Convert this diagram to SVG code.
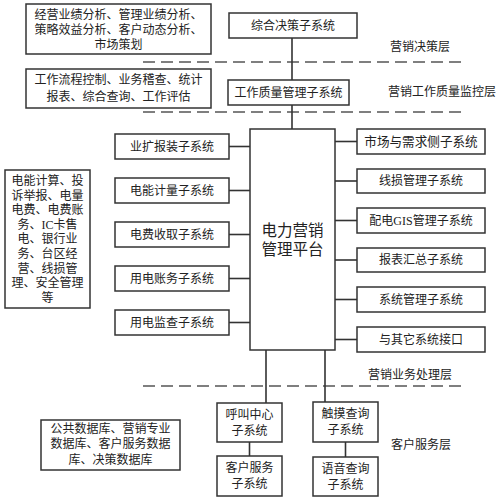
<svg xmlns="http://www.w3.org/2000/svg" width="500" height="501" viewBox="0 0 500 501">
<style>
.box{fill:#fff;stroke:#333;stroke-width:1.5}
.t{font-family:"Liberation Serif","Noto Sans CJK SC",serif;font-size:12px;fill:#222;text-anchor:middle;dominant-baseline:central}
.lbl{font-family:"Liberation Serif","Noto Sans CJK SC",serif;font-size:12px;fill:#222;text-anchor:middle;dominant-baseline:central}
.big{font-size:15.5px}
.ln{stroke:#333;stroke-width:1.6;fill:none}
.dash{stroke:#555;stroke-width:1.6;stroke-dasharray:12 6;fill:none}
</style>
<rect width="500" height="501" fill="#fff"/>
<g id="layers">
<line class="dash" x1="143" y1="62" x2="463" y2="62"/>
<line class="dash" x1="143" y1="112" x2="463" y2="112"/>
<line class="dash" x1="143" y1="386" x2="463" y2="386"/>
<text class="lbl" x="420" y="47">营销决策层</text>
<text class="lbl" x="442" y="92">营销工作质量监控层</text>
<text class="lbl" x="410" y="375">营销业务处理层</text>
<text class="lbl" x="421" y="445">客户服务层</text>
</g>
<g id="connectors">
<line class="ln" x1="292" y1="38" x2="292" y2="80"/>
<line class="ln" x1="292" y1="105" x2="292" y2="129"/>
<line class="ln" x1="229" y1="146.5" x2="250" y2="146.5"/>
<line class="ln" x1="229" y1="190.5" x2="250" y2="190.5"/>
<line class="ln" x1="229" y1="234.5" x2="250" y2="234.5"/>
<line class="ln" x1="229" y1="278.5" x2="250" y2="278.5"/>
<line class="ln" x1="229" y1="322.5" x2="250" y2="322.5"/>
<line class="ln" x1="335" y1="141.5" x2="357" y2="141.5"/>
<line class="ln" x1="335" y1="181" x2="357" y2="181"/>
<line class="ln" x1="335" y1="220.5" x2="357" y2="220.5"/>
<line class="ln" x1="335" y1="260" x2="357" y2="260"/>
<line class="ln" x1="335" y1="299.5" x2="357" y2="299.5"/>
<line class="ln" x1="335" y1="339.5" x2="357" y2="339.5"/>
<line class="ln" x1="266" y1="350" x2="266" y2="403"/>
<line class="ln" x1="325" y1="350" x2="325" y2="402"/>
<line class="ln" x1="249.5" y1="442" x2="249.5" y2="456"/>
<line class="ln" x1="345.5" y1="442" x2="345.5" y2="457"/>
</g>
<g id="desc-decision">
<rect class="box" x="26" y="4" width="185" height="50"/>
<text class="t" x="118.5" y="15">经营业绩分析、管理业绩分析、</text>
<text class="t" x="118.5" y="30">策略效益分析、客户动态分析、</text>
<text class="t" x="118.5" y="45">市场策划</text>
</g>
<g id="desc-quality">
<rect class="box" x="26" y="69" width="185" height="39"/>
<text class="t" x="118.5" y="80">工作流程控制、业务稽查、统计</text>
<text class="t" x="118.5" y="97">报表、综合查询、工作评估</text>
</g>
<g id="decision">
<rect class="box" x="229" y="13" width="128" height="25"/>
<text class="t" x="293" y="25.5">综合决策子系统</text>
</g>
<g id="quality">
<rect class="box" x="228" y="80" width="121" height="25"/>
<text class="t" x="288.5" y="92.5">工作质量管理子系统</text>
</g>
<g id="platform">
<rect class="box" x="250" y="129" width="85" height="221"/>
<text class="t big" x="292.5" y="230">电力营销</text>
<text class="t big" x="292.5" y="249">管理平台</text>
</g>
<g id="desc-business">
<rect class="box" x="5" y="170" width="85" height="138"/>
<text class="t" x="47.5" y="181">电能计算、投</text>
<text class="t" x="47.5" y="195.6">诉举报、电量</text>
<text class="t" x="47.5" y="210.2">电费、电费账</text>
<text class="t" x="47.5" y="224.8">务、IC卡售</text>
<text class="t" x="47.5" y="239.4">电、银行业</text>
<text class="t" x="47.5" y="254">务、台区经</text>
<text class="t" x="47.5" y="268.6">营、线损管</text>
<text class="t" x="47.5" y="283.2">理、安全管理</text>
<text class="t" x="47.5" y="297.8">等</text>
</g>
<g id="left1"><rect class="box" x="115" y="134" width="114" height="25"/><text class="t" x="172" y="146.5">业扩报装子系统</text></g>
<g id="left2"><rect class="box" x="115" y="178" width="114" height="25"/><text class="t" x="172" y="190.5">电能计量子系统</text></g>
<g id="left3"><rect class="box" x="115" y="222" width="114" height="25"/><text class="t" x="172" y="234.5">电费收取子系统</text></g>
<g id="left4"><rect class="box" x="115" y="266" width="114" height="25"/><text class="t" x="172" y="278.5">用电账务子系统</text></g>
<g id="left5"><rect class="box" x="115" y="310" width="114" height="25"/><text class="t" x="172" y="322.5">用电监查子系统</text></g>
<g id="right1"><rect class="box" x="357" y="129" width="128" height="25"/><text class="t" x="421" y="141.5" style="font-size:12.6px">市场与需求侧子系统</text></g>
<g id="right2"><rect class="box" x="357" y="169" width="128" height="24"/><text class="t" x="421" y="181">线损管理子系统</text></g>
<g id="right3"><rect class="box" x="357" y="208" width="128" height="25"/><text class="t" x="421" y="220.5">配电GIS管理子系统</text></g>
<g id="right4"><rect class="box" x="357" y="248" width="128" height="24"/><text class="t" x="421" y="260">报表汇总子系统</text></g>
<g id="right5"><rect class="box" x="357" y="287" width="128" height="25"/><text class="t" x="421" y="299.5">系统管理子系统</text></g>
<g id="right6"><rect class="box" x="357" y="327" width="128" height="25"/><text class="t" x="421" y="339.5">与其它系统接口</text></g>
<g id="database">
<rect class="box" x="41" y="420" width="139" height="50"/>
<text class="t" x="110.5" y="428.5">公共数据库、营销专业</text>
<text class="t" x="110.5" y="444">数据库、客户服务数据</text>
<text class="t" x="110.5" y="459.5">库、决策数据库</text>
</g>
<g id="callcenter"><rect class="box" x="217" y="403" width="65" height="39"/><text class="t" x="249.5" y="414.5">呼叫中心</text><text class="t" x="249.5" y="430.5">子系统</text></g>
<g id="custservice"><rect class="box" x="217" y="456" width="65" height="40"/><text class="t" x="249.5" y="468">客户服务</text><text class="t" x="249.5" y="484">子系统</text></g>
<g id="touch"><rect class="box" x="313" y="402" width="65" height="40"/><text class="t" x="345.5" y="414">触摸查询</text><text class="t" x="345.5" y="430">子系统</text></g>
<g id="voice"><rect class="box" x="313" y="457" width="65" height="39"/><text class="t" x="345.5" y="468.5">语音查询</text><text class="t" x="345.5" y="484.5">子系统</text></g>
</svg>
